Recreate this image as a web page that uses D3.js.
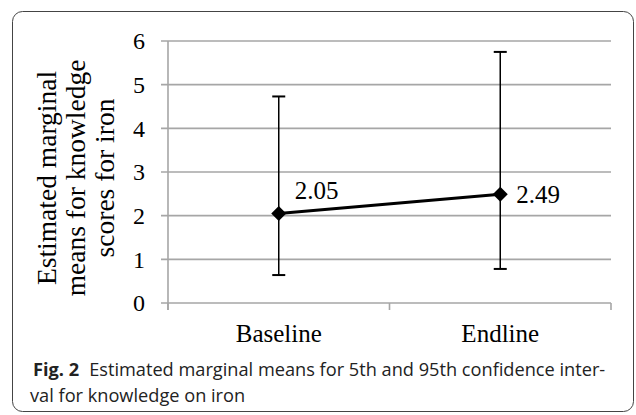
<!DOCTYPE html>
<html>
<head>
<meta charset="utf-8">
<script src="https://cdn.jsdelivr.net/npm/d3@7"></script>
<style>
  body { margin: 0; background: #fff; }
  svg { display: block; }
  .serif { font-family: "Liberation Serif", "Times New Roman", serif; fill: #000; }
  .caption { font-family: "Open Sans", "Noto Sans", sans-serif; fill: #222; }
</style>
</head>
<body>
<div id="chart"></div>
<script>
var width = 636, height = 415;

// data
var categories = ["Baseline", "Endline"];
var means = [2.05, 2.49];
var lower = [0.64, 0.78];
var upper = [4.73, 5.75];
var yTicks = [0, 1, 2, 3, 4, 5, 6];
var titleLines = ["Estimated marginal", "means for knowledge", "scores for iron"];

var svg = d3.select("#chart").append("svg")
  .attr("width", width)
  .attr("height", height);

// frame round the figure
svg.append("rect")
  .attr("x", 12.5).attr("y", 11.5)
  .attr("width", 621).attr("height", 400)
  .attr("rx", 10).attr("ry", 10)
  .attr("fill", "none")
  .attr("stroke", "#444")
  .attr("stroke-width", 1);

var x = d3.scaleBand()
  .domain(categories)
  .range([168, 611]);

var y = d3.scaleLinear()
  .domain([0, 6])
  .range([303, 41]);

var grey = "#a6a6a6";

// horizontal gridlines with small left ticks
svg.selectAll(".grid")
  .data(yTicks)
  .enter().append("line")
    .attr("class", "grid")
    .attr("x1", 161).attr("x2", 611)
    .attr("y1", function(d) { return y(d); })
    .attr("y2", function(d) { return y(d); })
    .attr("stroke", grey)
    .attr("stroke-width", 1.6);

// y axis line
svg.append("line")
  .attr("x1", 168).attr("x2", 168)
  .attr("y1", y(6)).attr("y2", y(0) + 7)
  .attr("stroke", grey)
  .attr("stroke-width", 1.6);

// x axis ticks at band edges
var edges = [x.range()[0]].concat(categories.map(function(c) { return x(c) + x.bandwidth(); }));
svg.selectAll(".xtick")
  .data(edges)
  .enter().append("line")
    .attr("x1", function(d) { return d; })
    .attr("x2", function(d) { return d; })
    .attr("y1", y(0)).attr("y2", y(0) + 7)
    .attr("stroke", grey)
    .attr("stroke-width", 1.6);

// tick labels
svg.selectAll(".ylab")
  .data(yTicks)
  .enter().append("text")
    .attr("class", "serif")
    .attr("x", 145)
    .attr("y", function(d) { return y(d); })
    .attr("dy", "0.35em")
    .attr("text-anchor", "end")
    .style("font-size", "24px")
    .text(function(d) { return d; });

svg.selectAll(".xlab")
  .data(categories)
  .enter().append("text")
    .attr("class", "serif")
    .attr("x", function(d) { return x(d) + x.bandwidth() / 2; })
    .attr("y", 342)
    .attr("text-anchor", "middle")
    .style("font-size", "25px")
    .text(function(d) { return d; });

// y axis title, three lines rotated
var title = svg.append("text")
  .attr("class", "serif")
  .attr("transform", "translate(56,178) rotate(-90)")
  .attr("text-anchor", "middle")
  .style("font-size", "27.5px");

title.selectAll("tspan")
  .data(titleLines)
  .enter().append("tspan")
    .attr("x", 0)
    .attr("y", function(d, i) { return i * 29; })
    .text(function(d) { return d; });

var cx = function(i) { return x(categories[i]) + x.bandwidth() / 2; };
var idx = d3.range(categories.length);

// error bars
svg.selectAll(".err")
  .data(idx)
  .enter().append("line")
    .attr("x1", cx).attr("x2", cx)
    .attr("y1", function(i) { return y(lower[i]); })
    .attr("y2", function(i) { return y(upper[i]); })
    .attr("stroke", "#000")
    .attr("stroke-width", 1.5);

var caps = [];
idx.forEach(function(i) { caps.push([i, lower[i]], [i, upper[i]]); });
svg.selectAll(".cap")
  .data(caps)
  .enter().append("line")
    .attr("x1", function(d) { return cx(d[0]) - 6.5; })
    .attr("x2", function(d) { return cx(d[0]) + 6.5; })
    .attr("y1", function(d) { return y(d[1]); })
    .attr("y2", function(d) { return y(d[1]); })
    .attr("stroke", "#000")
    .attr("stroke-width", 2);

// mean line
svg.append("path")
  .datum(idx)
  .attr("fill", "none")
  .attr("stroke", "#000")
  .attr("stroke-width", 3)
  .attr("d", d3.line()
    .x(cx)
    .y(function(i) { return y(means[i]); }));

// diamond markers
svg.selectAll(".marker")
  .data(idx)
  .enter().append("path")
    .attr("transform", function(i) { return "translate(" + cx(i) + "," + y(means[i]) + ")"; })
    .attr("d", "M0,-7.5L7.5,0L0,7.5L-7.5,0Z")
    .attr("fill", "#000");

// value labels
svg.selectAll(".val")
  .data(idx)
  .enter().append("text")
    .attr("class", "serif")
    .attr("x", function(i) { return cx(i) + 16; })
    .attr("y", function(i) { return y(means[i]) + (i === 0 ? -23 : 0); })
    .attr("dy", "0.35em")
    .style("font-size", "25px")
    .text(function(i) { return means[i].toFixed(2); });

// caption
var cap1 = svg.append("text")
  .attr("class", "caption")
  .attr("x", 33).attr("y", 376)
  .style("font-size", "18.2px");
cap1.append("tspan")
  .style("font-weight", "bold")
  .text("Fig. 2");
cap1.append("tspan")
  .attr("dx", 10)
  .text("Estimated marginal means for 5th and 95th confidence inter-");

svg.append("text")
  .attr("class", "caption")
  .attr("x", 30).attr("y", 402)
  .style("font-size", "18.2px")
  .text("val for knowledge on iron");
</script>
</body>
</html>
